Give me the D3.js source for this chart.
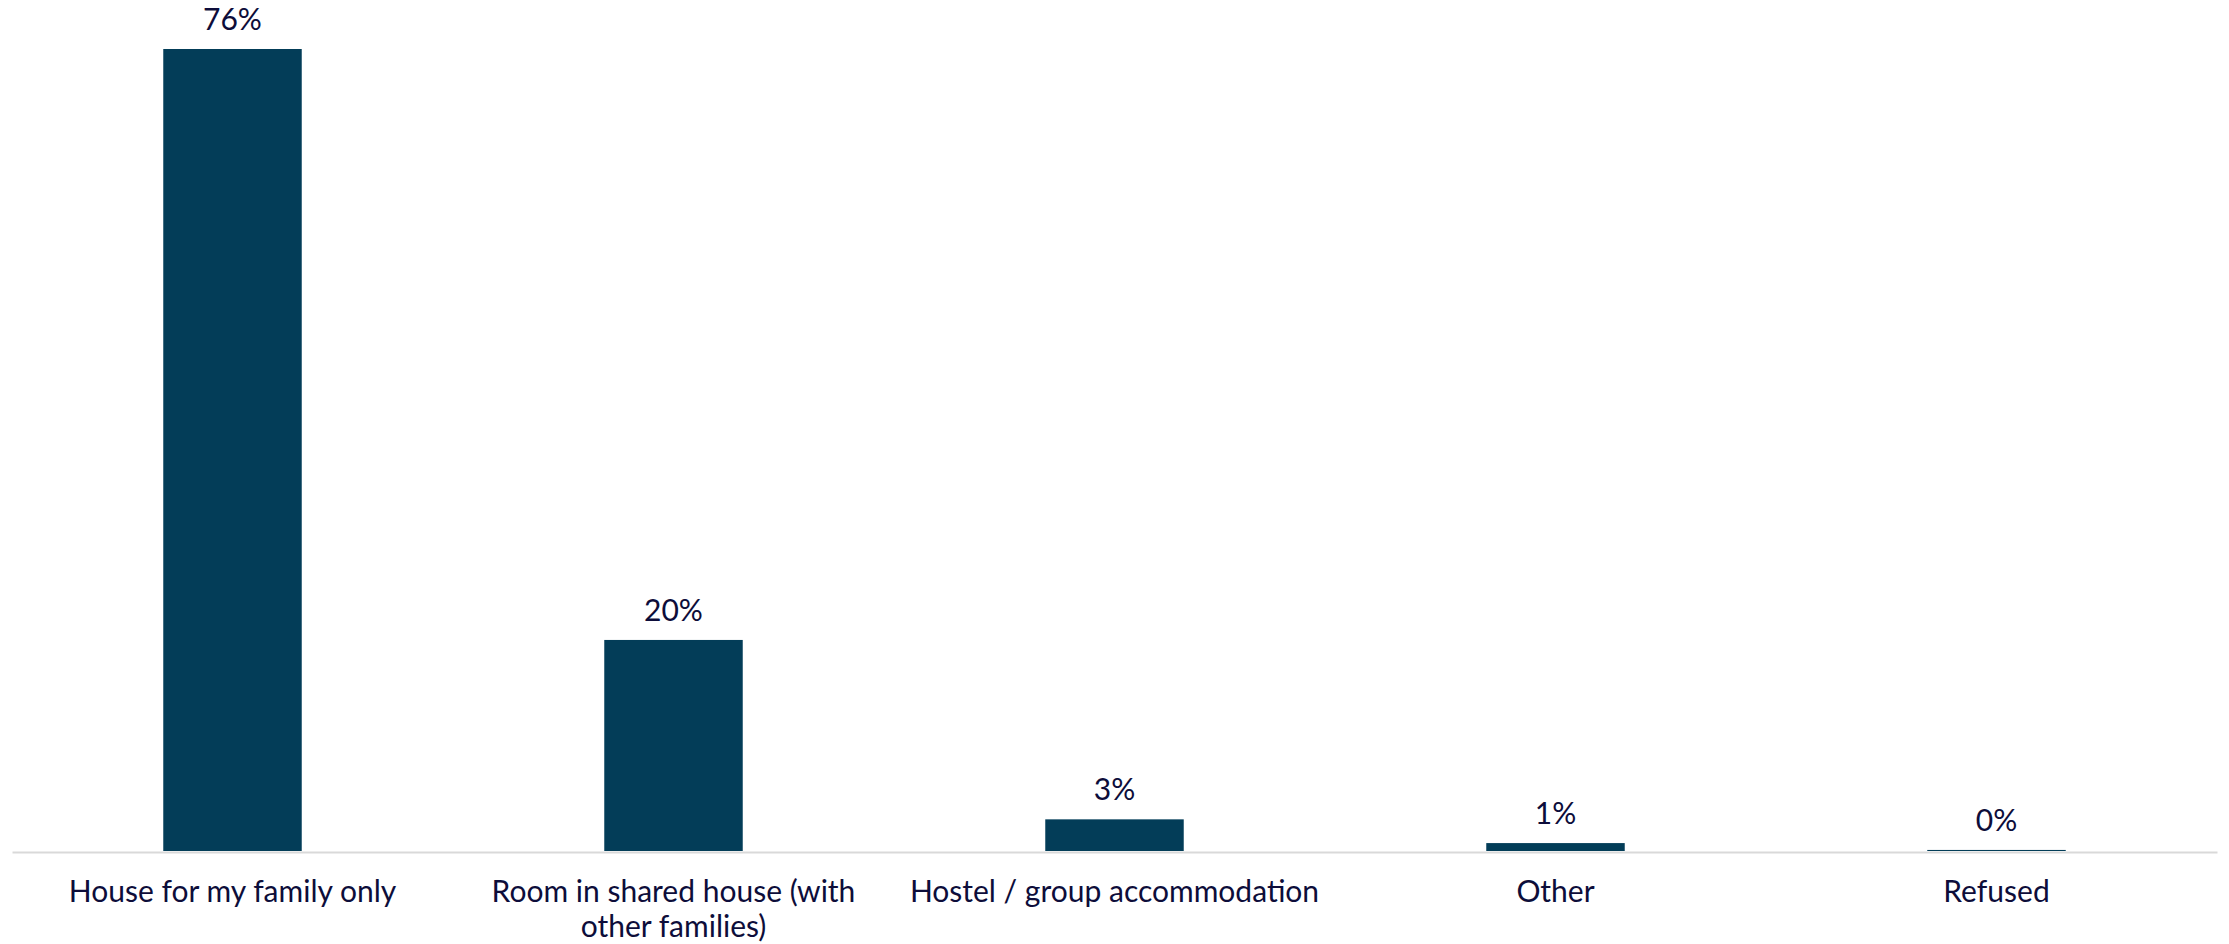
<!DOCTYPE html>
<html>
<head>
<meta charset="utf-8">
<script src="https://cdn.jsdelivr.net/npm/d3@7"></script>
<style>
  html, body { margin: 0; padding: 0; background: #ffffff; }
  svg { display: block; }
</style>
</head>
<body>
<svg id="chart" width="2229" height="944"></svg>
<script>
const categories = [
  "House for my family only",
  "Room in shared house (with other families)",
  "Hostel / group accommodation",
  "Other",
  "Refused"
];
const values = [76, 20, 3, 0.75, 0.1];
const valueLabels = ["76%", "20%", "3%", "1%", "0%"];

const W = 2229, H = 944;
const svg = d3.select("#chart");

const x = d3.scaleBand()
  .domain(categories)
  .range([12, 2217])
  .paddingInner(0.686)
  .paddingOuter(0.343);

const y = d3.scaleLinear()
  .domain([0, d3.max(values)])
  .range([851, 49]);

const barColor = "#033d58";
const textColor = "#0d0d3a";

svg.selectAll("rect.bar")
  .data(categories)
  .join("rect")
  .attr("class", "bar")
  .attr("x", d => x(d))
  .attr("width", x.bandwidth())
  .attr("y", (d, i) => y(values[i]))
  .attr("height", (d, i) => y(0) - y(values[i]))
  .attr("fill", barColor);

// axis baseline
const axis = d3.axisBottom(x).tickSize(0).tickFormat("");
const axisG = svg.append("g").attr("transform", "translate(0,852)").call(axis);
axisG.select(".domain").attr("stroke", "#d9d9d9").attr("stroke-width", 2);

// value labels
svg.selectAll("text.val")
  .data(categories)
  .join("text")
  .attr("class", "val")
  .attr("x", d => x(d) + x.bandwidth() / 2)
  .attr("y", (d, i) => y(values[i]) - 19)
  .attr("text-anchor", "middle")
  .attr("font-family", "Lato, 'Open Sans', sans-serif")
  .attr("font-size", 30)
  .attr("fill", textColor)
  .text((d, i) => valueLabels[i]);

// category labels with wrapping
const maxW = x.step() - 20;
const labels = svg.selectAll("text.cat")
  .data(categories)
  .join("text")
  .attr("class", "cat")
  .attr("x", d => x(d) + x.bandwidth() / 2)
  .attr("y", 902)
  .attr("text-anchor", "middle")
  .attr("font-family", "Lato, 'Open Sans', sans-serif")
  .attr("font-size", 30)
  .attr("fill", textColor);

labels.each(function(d) {
  const t = d3.select(this);
  const cx = +t.attr("x");
  const words = d.split(" ");
  let line = [];
  let tspan = t.append("tspan").attr("x", cx).attr("dy", 0);
  let lineNo = 0;
  words.forEach(w => {
    line.push(w);
    tspan.text(line.join(" "));
    if (tspan.node().getComputedTextLength() > maxW && line.length > 1) {
      line.pop();
      tspan.text(line.join(" "));
      line = [w];
      lineNo++;
      tspan = t.append("tspan").attr("x", cx).attr("dy", 35).text(w);
    }
  });
});
</script>
</body>
</html>
